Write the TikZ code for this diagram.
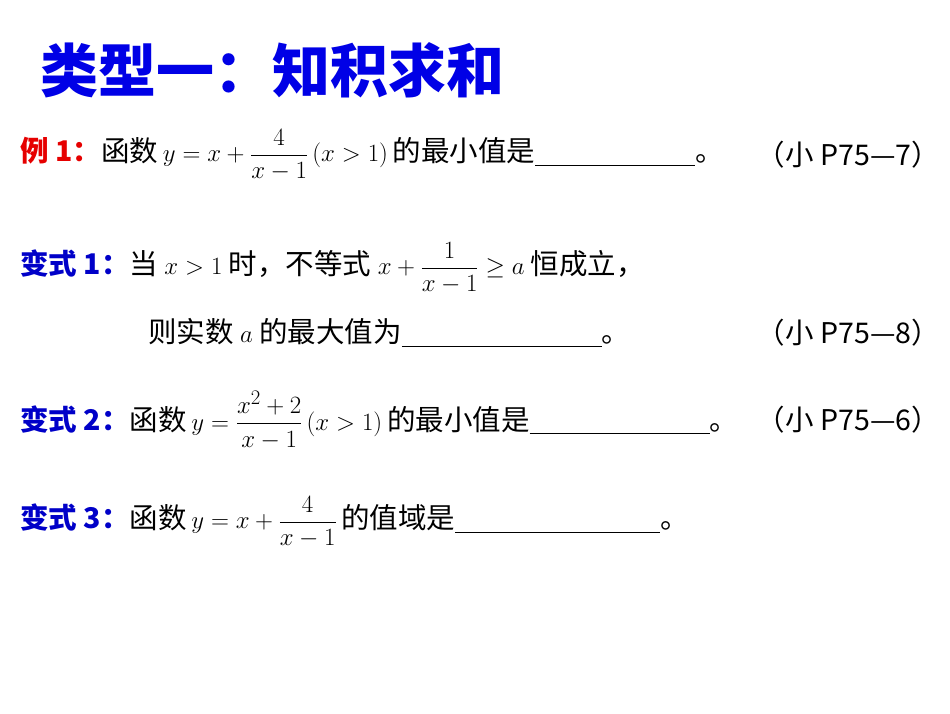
\documentclass[tikz,border=0pt]{standalone}
\usepackage{fontspec}
\usepackage{amsmath}
\newfontfamily\cjk{Noto Sans CJK SC}
\definecolor{tblue}{RGB}{0,0,230}
\definecolor{tred}{RGB}{230,0,0}
\definecolor{lblue}{RGB}{0,0,200}
\tikzset{line/.style={anchor=west,inner sep=0pt,font=\cjk\fontsize{28.5}{32}\selectfont},
 rline/.style={anchor=east,inner sep=0pt,font=\cjk\fontsize{28.5}{32}\selectfont}}
\newcommand{\blank}[1]{\underline{\hspace{#1pt}}}
\begin{document}
\begin{tikzpicture}[x=1pt,y=-1pt]
\useasboundingbox (0,0) rectangle (950,713);
\fill[white] (0,0) rectangle (950,713);
\node[anchor=west,inner sep=0pt,text=tblue,font=\cjk\bfseries\fontsize{58}{64}\selectfont] (title) at (40,70) {类型一：知积求和};
\node[line] (l1) at (20,155) {{\color{tred}\bfseries 例 1：}函数\,$y=x+\dfrac{4}{x-1}\,(x>1)$\,的最小值是\blank{160}。};
\node[rline] (r1) at (940,155) {（小 P75—7）};
\node[line] (l2) at (20,268) {{\color{lblue}\bfseries 变式 1：}当 $x>1$ 时，不等式 $x+\dfrac{1}{x-1}\geq a$ 恒成立，};
\node[line] (l3) at (148,333) {则实数 $a$ 的最大值为\blank{200}。};
\node[rline] (r3) at (940,333) {（小 P75—8）};
\node[line] (l4) at (20,420) {{\color{lblue}\bfseries 变式 2：}函数\,$y=\dfrac{x^2+2}{x-1}\,(x>1)$\,的最小值是\blank{180}。};
\node[rline] (r4) at (940,420) {（小 P75—6）};
\node[line] (l5) at (20,522) {{\color{lblue}\bfseries 变式 3：}函数\,$y=x+\dfrac{4}{x-1}$\,的值域是\blank{205}。};
\end{tikzpicture}
\end{document}
